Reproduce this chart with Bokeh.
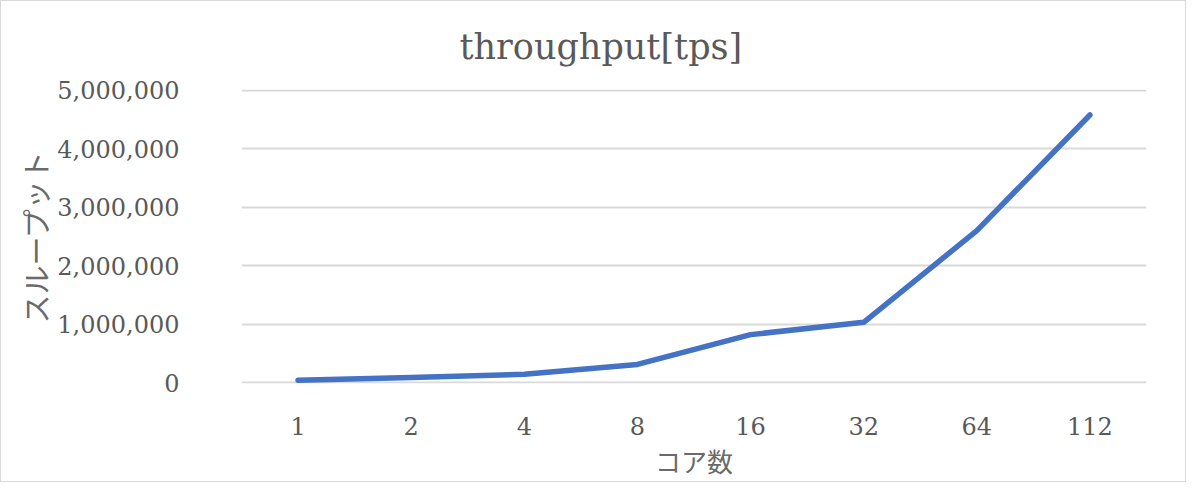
from bokeh.plotting import figure
from bokeh.models import Range1d, FactorRange, NumeralTickFormatter
from bokeh.embed import file_html
from bokeh.resources import INLINE

cores = ["1", "2", "4", "8", "16", "32", "64", "112"]
throughput = [40000, 85000, 140000, 310000, 820000, 1030000, 2600000, 4580000]
y_ticks = [0, 1000000, 2000000, 3000000, 4000000, 5000000]

TXT = "#595959"
SERIF = "DejaVu Serif"
JP = "Noto Sans CJK JP"

p = figure(
    frame_width=905, frame_height=294,
    x_range=FactorRange(*cores, range_padding=0),
    y_range=Range1d(-17000, 5017000),
    output_backend="svg", toolbar_location=None,
    min_border_left=240, min_border_right=39,
    min_border_top=88, min_border_bottom=90,
    title="throughput[tps]",
)
p.styles = {"border": "1px solid #d9d9d9"}

p.title.text_font = SERIF
p.title.text_font_size = "35px"
p.title.text_font_style = "normal"
p.title.text_color = TXT
p.title.align = "left"
p.title.offset = 218
p.title.standoff = 46

p.outline_line_color = None
p.background_fill_color = "white"
p.border_fill_color = "white"

p.xgrid.grid_line_color = None
p.ygrid.grid_line_color = "#d9d9d9"
p.ygrid.grid_line_width = 2
p.yaxis.ticker = y_ticks
p.yaxis.formatter = NumeralTickFormatter(format="0,0")

for ax in (p.xaxis[0], p.yaxis[0]):
    ax.axis_line_color = None
    ax.major_tick_line_color = None
    ax.minor_tick_line_color = None
    ax.major_label_text_font = SERIF
    ax.major_label_text_font_size = "24px"
    ax.major_label_text_color = TXT
    ax.axis_label_text_font = JP
    ax.axis_label_text_font_style = "normal"
    ax.axis_label_text_color = "#6a6a6a"

p.yaxis.axis_label = "スループット"
p.yaxis.axis_label_text_font_size = "29px"
p.yaxis.major_label_standoff = 56
p.yaxis.axis_label_standoff = -2
p.xaxis.axis_label = "コア数"
p.xaxis.axis_label_text_font_size = "26px"
p.xaxis.major_label_standoff = 27
p.xaxis.axis_label_standoff = 4

p.line(x=cores, y=throughput, line_width=5.5, line_color="#4472C4",
       line_join="round", line_cap="round")

open("out.html", "w").write(file_html(p, INLINE))
